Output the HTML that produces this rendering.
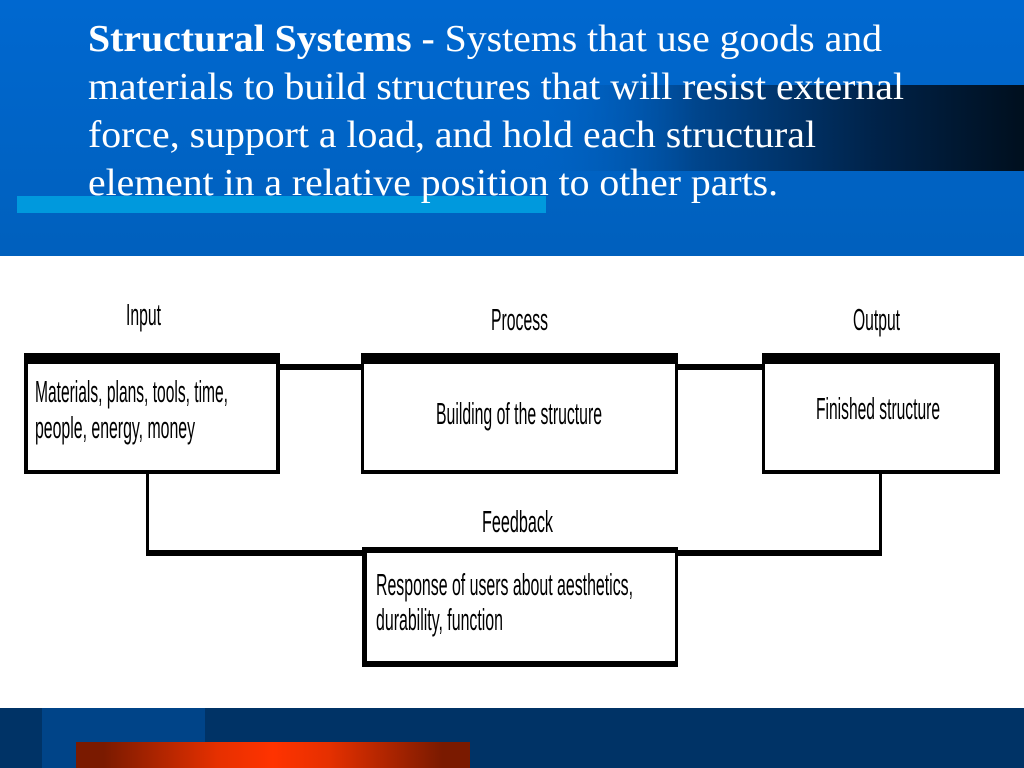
<!DOCTYPE html>
<html>
<head>
<meta charset="utf-8">
<style>
html,body{margin:0;padding:0;background:#fff;width:1024px;height:768px;overflow:hidden}
svg{display:block}
.h{font-family:"Liberation Serif",serif;font-size:38px;fill:#fff}
.t{font-family:"Liberation Sans",sans-serif;font-size:31px;fill:#000}
</style>
</head>
<body>
<svg width="1024" height="768" viewBox="0 0 1024 768" xmlns="http://www.w3.org/2000/svg">
<defs>
<linearGradient id="top" x1="0" y1="0" x2="0" y2="1">
<stop offset="0" stop-color="#0068d0"/><stop offset="1" stop-color="#0060bd"/>
</linearGradient>
<linearGradient id="dark" x1="0" y1="0" x2="1" y2="0">
<stop offset="0" stop-color="#0064c8" stop-opacity="0"/>
<stop offset="0.35" stop-color="#00458c"/>
<stop offset="0.7" stop-color="#00234a"/>
<stop offset="1" stop-color="#000f1e"/>
</linearGradient>
<linearGradient id="org" x1="0" y1="0" x2="1" y2="0">
<stop offset="0" stop-color="#7a1a00"/>
<stop offset="0.07" stop-color="#7a1a00"/>
<stop offset="0.36" stop-color="#e63000"/>
<stop offset="0.5" stop-color="#ff3300"/>
<stop offset="0.64" stop-color="#e63000"/>
<stop offset="0.93" stop-color="#7a1a00"/>
<stop offset="1" stop-color="#7a1a00"/>
</linearGradient>
</defs>

<rect x="0" y="0" width="1024" height="256" fill="url(#top)"/>
<rect x="520" y="85" width="504" height="86" fill="url(#dark)"/>
<rect x="17" y="196" width="529" height="17" fill="#0099dd"/>

<text class="h" y="51" x="88" textLength="794" lengthAdjust="spacingAndGlyphs"><tspan font-weight="bold">Structural Systems - </tspan>Systems that use goods and</text>
<text class="h" y="99" x="88" textLength="816" lengthAdjust="spacingAndGlyphs">materials to build structures that will resist external</text>
<text class="h" y="147" x="88" textLength="728" lengthAdjust="spacingAndGlyphs">force, support a load, and hold each structural</text>
<text class="h" y="195" x="88" textLength="690" lengthAdjust="spacingAndGlyphs">element in a relative position to other parts.</text>

<!-- connectors -->
<rect x="280" y="364" width="82" height="6" fill="#000"/>
<rect x="678" y="364" width="85" height="6" fill="#000"/>
<rect x="146" y="474" width="3" height="82" fill="#000"/>
<rect x="879" y="474" width="3" height="82" fill="#000"/>
<rect x="146" y="550" width="217" height="6" fill="#000"/>
<rect x="677" y="550" width="205" height="6" fill="#000"/>

<!-- boxes -->
<rect x="24" y="353" width="256" height="121" fill="#000"/>
<rect x="28" y="364" width="248" height="106" fill="#fff"/>
<rect x="361" y="353" width="317" height="121" fill="#000"/>
<rect x="364" y="364" width="311" height="106" fill="#fff"/>
<rect x="762" y="353" width="238" height="121" fill="#000"/>
<rect x="765" y="364" width="229" height="106" fill="#fff"/>
<rect x="362" y="547" width="316" height="120" fill="#000"/>
<rect x="367" y="553" width="308" height="108" fill="#fff"/>

<!-- labels -->
<text class="t" x="126" y="325" textLength="35" lengthAdjust="spacingAndGlyphs">Input</text>
<text class="t" x="491" y="330" textLength="57" lengthAdjust="spacingAndGlyphs">Process</text>
<text class="t" x="853" y="330" textLength="47" lengthAdjust="spacingAndGlyphs">Output</text>
<text class="t" x="35" y="402" textLength="193" lengthAdjust="spacingAndGlyphs">Materials, plans, tools, time,</text>
<text class="t" x="35" y="438" textLength="160" lengthAdjust="spacingAndGlyphs">people, energy, money</text>
<text class="t" x="436" y="424" textLength="166" lengthAdjust="spacingAndGlyphs">Building of the structure</text>
<text class="t" x="816" y="419" textLength="124" lengthAdjust="spacingAndGlyphs">Finished structure</text>
<text class="t" x="482" y="532" textLength="71" lengthAdjust="spacingAndGlyphs">Feedback</text>
<text class="t" x="376" y="595" textLength="257" lengthAdjust="spacingAndGlyphs">Response of users about aesthetics,</text>
<text class="t" x="376" y="630" textLength="127" lengthAdjust="spacingAndGlyphs">durability, function</text>

<!-- footer -->
<rect x="0" y="708" width="1024" height="60" fill="#003366"/>
<rect x="42" y="708" width="163" height="60" fill="#004488"/>
<rect x="205" y="708" width="819" height="34" fill="#003366"/>
<rect x="76" y="742" width="394" height="26" fill="url(#org)"/>
</svg>
</body>
</html>
